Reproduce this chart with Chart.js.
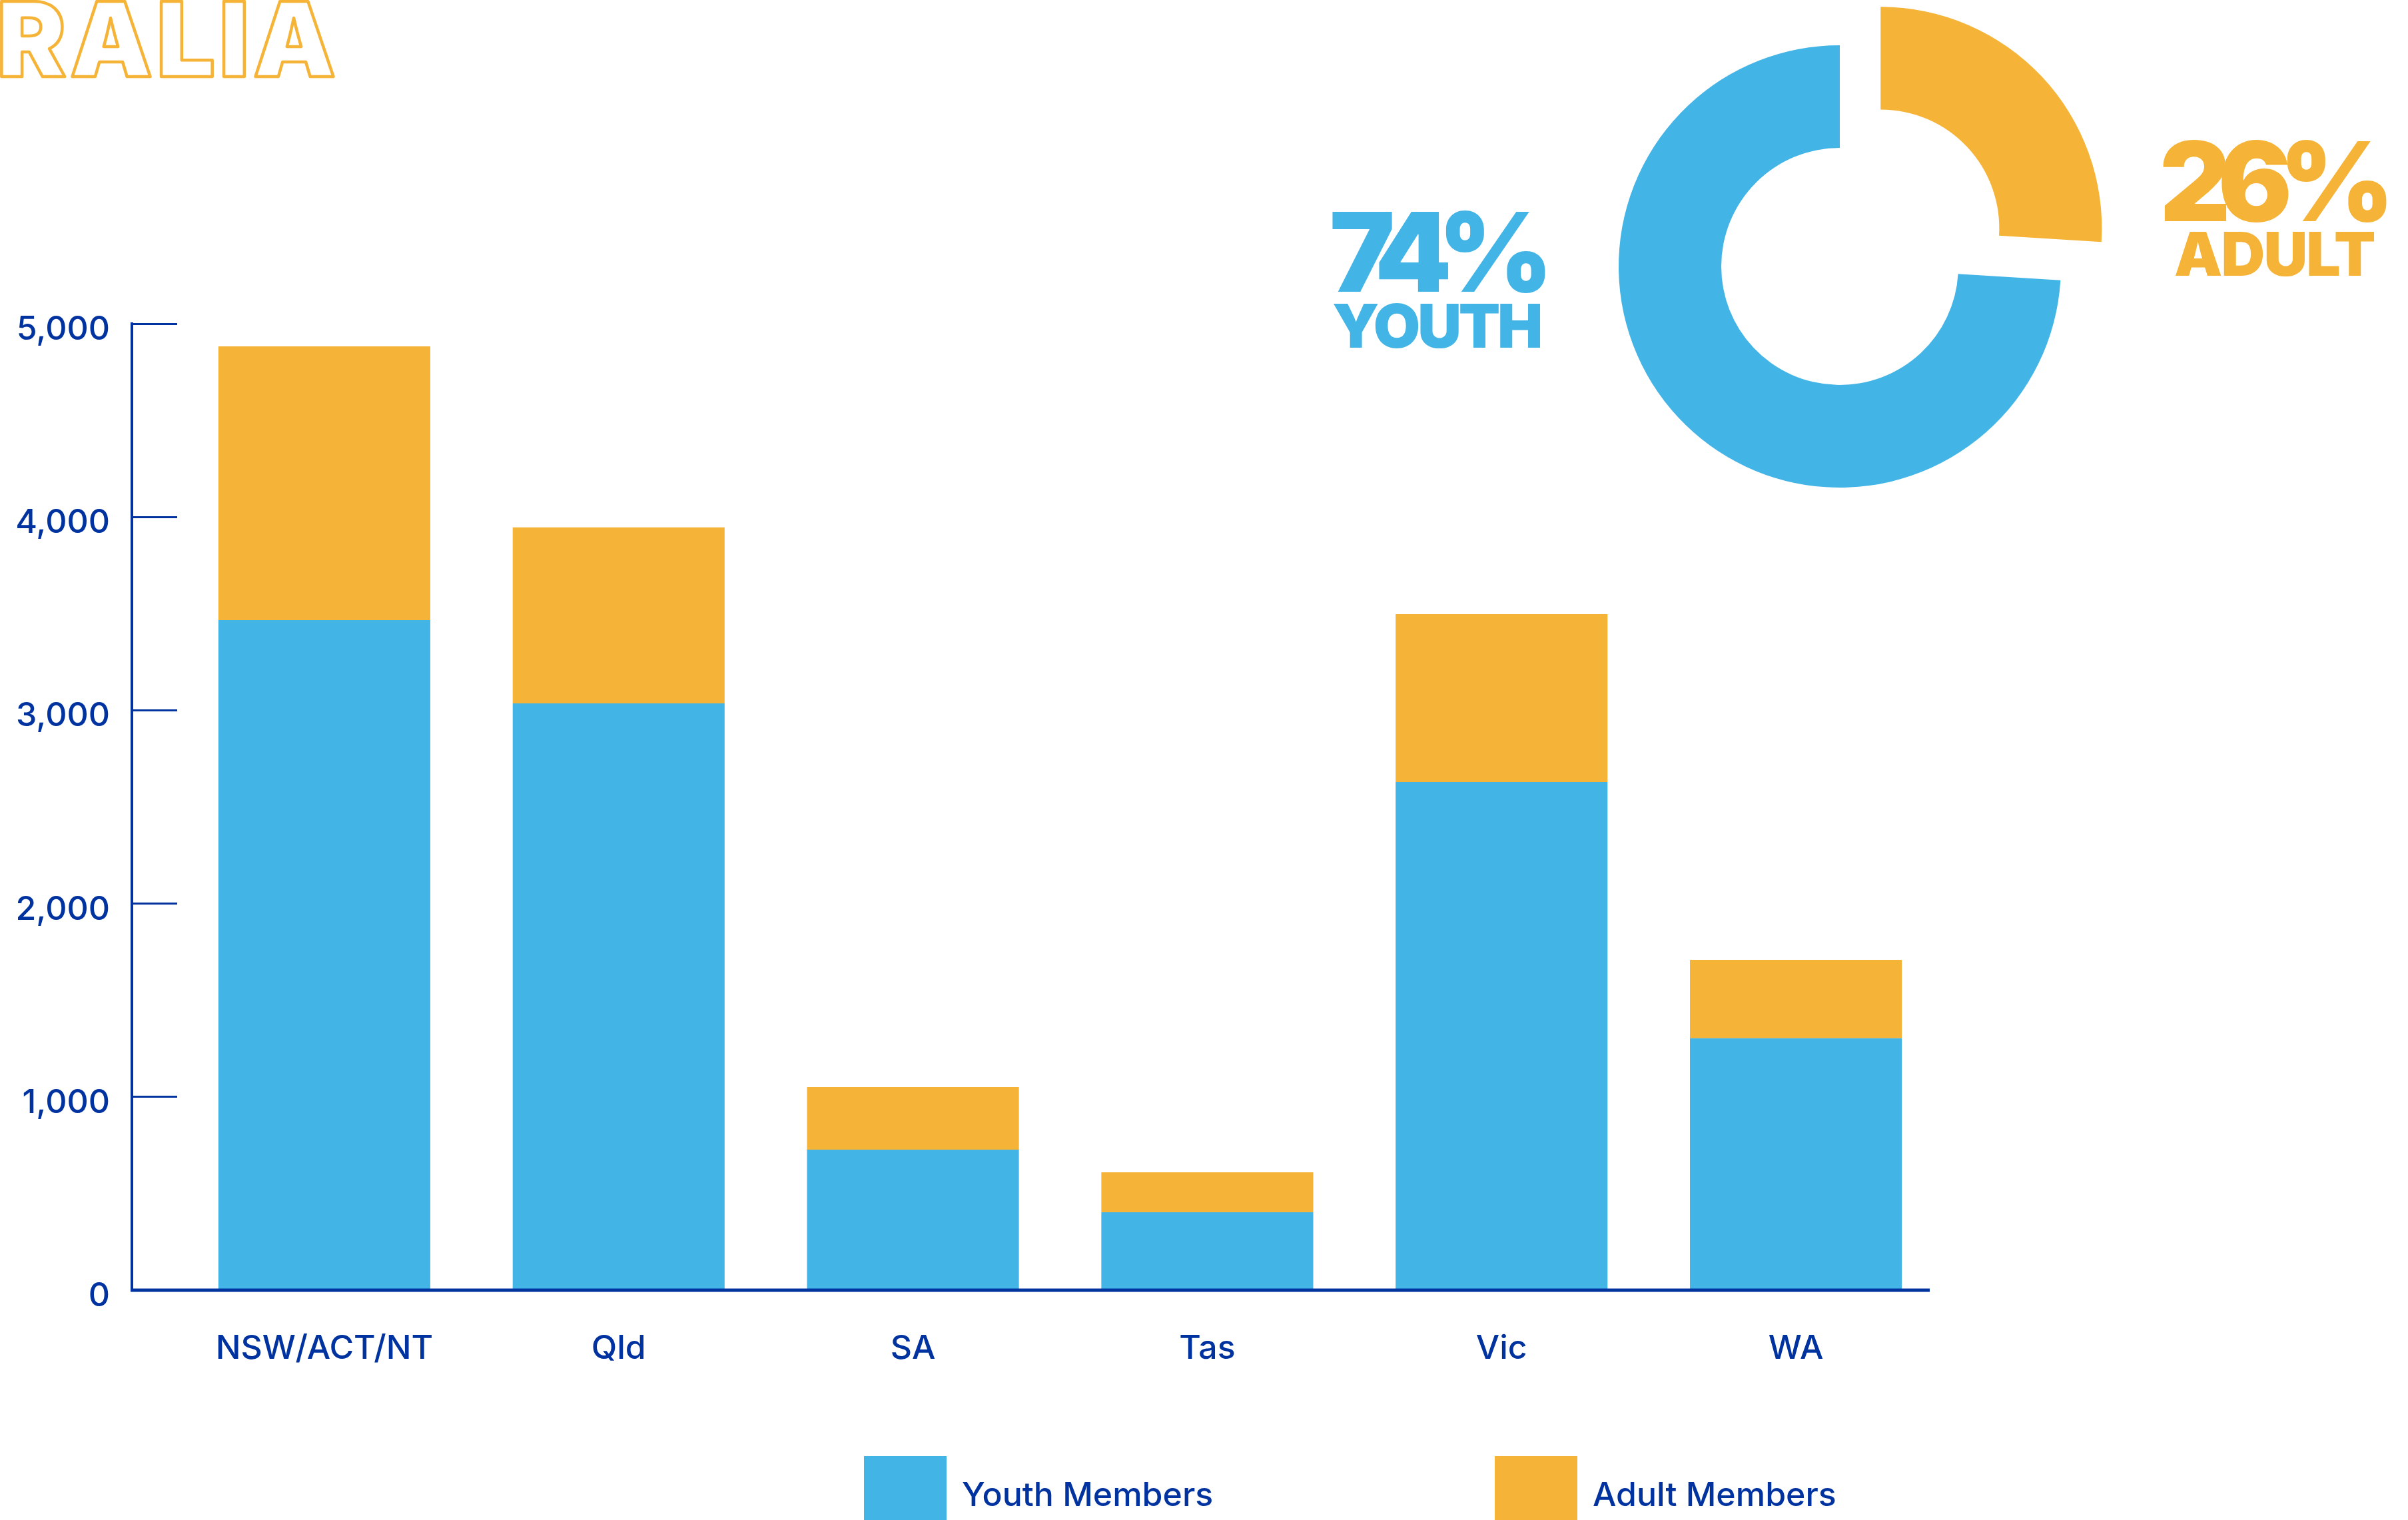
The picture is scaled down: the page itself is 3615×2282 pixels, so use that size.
<!DOCTYPE html>
<html>
<head>
<meta charset="utf-8">
<script src="https://cdn.jsdelivr.net/npm/chart.js@4.4.0/dist/chart.umd.min.js"></script>
<style>
  html, body { margin: 0; padding: 0; background: #fff; overflow: hidden; }
  #wrap { position: relative; width: 3615px; height: 2282px; }
  canvas { position: absolute; left: 0; top: 0; }
</style>
</head>
<body>
<div id="wrap">
  <canvas id="barChart" width="3615" height="2282"></canvas>
  <canvas id="donutChart" width="3615" height="2282"></canvas>
</div>
<script>
var regions = ["NSW/ACT/NT", "Qld", "SA", "Tas", "Vic", "WA"];
var youthMembers = [3467, 3036, 727, 403, 2629, 1303];
var adultMembers = [1416, 910, 324, 207, 869, 406];
var yTicks = [0, 1000, 2000, 3000, 4000, 5000];
var shareLabels = ["ADULT", "YOUTH"];
var shareValues = [26, 74];

var BLUE = "#42B5E6";
var ORANGE = "#F5B437";
var NAVY = "#0033A0";
var FONT = "Inter";

// stretch or squeeze a word to a given ink width
function drawFitted(ctx, text, x, baseline, width, font, align) {
  ctx.font = font;
  ctx.letterSpacing = "0px";
  var m = ctx.measureText(text);
  var ink = m.actualBoundingBoxLeft + m.actualBoundingBoxRight;
  var ls = (width - ink) / (text.length - 1);
  ctx.letterSpacing = ls + "px";
  m = ctx.measureText(text);
  var px;
  if (align === "left") {
    px = x + m.actualBoundingBoxLeft;
  } else {
    px = x - (m.actualBoundingBoxRight - m.actualBoundingBoxLeft) / 2;
  }
  return px;
}

var axisLines = {
  id: "axisLines",
  afterDatasetsDraw: function (chart) {
    var ctx = chart.ctx;
    var a = chart.chartArea;
    var y = chart.scales.y;
    var x0 = a.left - 68;
    ctx.save();
    ctx.strokeStyle = NAVY;
    ctx.lineWidth = 4;
    ctx.beginPath();
    ctx.moveTo(x0, y.getPixelForValue(5000) - 2);
    ctx.lineTo(x0, a.bottom + 2);
    ctx.stroke();
    ctx.lineWidth = 5;
    ctx.beginPath();
    ctx.moveTo(x0 - 2, a.bottom);
    ctx.lineTo(a.right - 20, a.bottom);
    ctx.stroke();
    ctx.restore();
  }
};

var legendAndTitle = {
  id: "legendAndTitle",
  afterDraw: function (chart) {
    var ctx = chart.ctx;
    ctx.save();
    // legend
    var boxX = [1297, 2244];
    chart.data.datasets.forEach(function (ds, i) {
      ctx.fillStyle = ds.backgroundColor;
      ctx.fillRect(boxX[i], 2186, 124, 120);
      ctx.fillStyle = NAVY;
      ctx.font = "500 50px " + FONT;
      ctx.textBaseline = "alphabetic";
      ctx.textAlign = "left";
      ctx.fillText(ds.label, boxX[i] + 147, 2261);
    });
    // cropped outlined heading
    var px = drawFitted(ctx, "RALIA", 2, 115, 499, "900 156px " + FONT, "left");
    ctx.textAlign = "left";
    ctx.textBaseline = "alphabetic";
    ctx.strokeStyle = ORANGE;
    ctx.lineWidth = 4.5;
    ctx.lineJoin = "round";
    ctx.strokeText("RALIA", px, 115);
    ctx.restore();
  }
};

var shareText = {
  id: "shareText",
  afterDraw: function (chart) {
    var ctx = chart.ctx;
    var vals = chart.data.datasets[0].data;
    var items = [
      { t: vals[1] + "%", x: 2160, b: 438, w: 320, f: "900 165px " + FONT, c: BLUE },
      { t: chart.data.labels[1], x: 2157, b: 522, w: 310, f: "900 91px " + FONT, c: BLUE },
      { t: vals[0] + "%", x: 3415, b: 332, w: 336, f: "900 165px " + FONT, c: ORANGE },
      { t: chart.data.labels[0], x: 3415, b: 414, w: 298, f: "900 91px " + FONT, c: ORANGE }
    ];
    ctx.save();
    items.forEach(function (it) {
      var px = drawFitted(ctx, it.t, it.x, it.b, it.w, it.f, "center");
      ctx.textAlign = "left";
      ctx.textBaseline = "alphabetic";
      ctx.fillStyle = it.c;
      ctx.fillText(it.t, px, it.b);
    });
    ctx.restore();
  }
};

function draw() {
  new Chart(document.getElementById("barChart"), {
    type: "bar",
    data: {
      labels: regions,
      datasets: [
        {
          label: "Youth Members",
          data: youthMembers,
          backgroundColor: BLUE,
          borderWidth: 0,
        },
        {
          label: "Adult Members",
          data: adultMembers,
          backgroundColor: ORANGE,
          borderWidth: 0,
        },
      ],
    },
    options: {
      responsive: false,
      animation: false,
      devicePixelRatio: 1,
      events: [],
      layout: {
        padding: { left: 0, right: 698, top: 486, bottom: 195 },
      },
      datasets: {
        bar: { barPercentage: 0.72, categoryPercentage: 1 },
      },
      scales: {
        x: {
          stacked: true,
          grid: { display: false, drawTicks: false },
          border: { display: false },
          ticks: {
            color: NAVY,
            font: { family: FONT, size: 50, weight: 500 },
            padding: 58,
            maxRotation: 0,
            autoSkip: false,
          },
          afterFit: function (s) {
            s.height = 150;
          },
        },
        y: {
          stacked: true,
          min: 0,
          max: 5000,
          afterBuildTicks: function (s) {
            s.ticks = yTicks.map(function (v) {
              return { value: v };
            });
          },
          grid: {
            drawOnChartArea: false,
            tickLength: 68,
            tickWidth: 3,
            tickColor: NAVY,
            color: NAVY,
          },
          border: { display: false },
          ticks: {
            color: NAVY,
            font: { family: FONT, size: 50, weight: 500 },
            padding: 33,
            labelOffset: 9,
          },
          afterFit: function (s) {
            s.width = 266;
          },
        },
      },
      plugins: {
        legend: { display: false },
        tooltip: { enabled: false },
      },
    },
    plugins: [axisLines, legendAndTitle],
  });

  new Chart(document.getElementById("donutChart"), {
    type: "doughnut",
    data: {
      labels: shareLabels,
      datasets: [
        {
          data: shareValues,
          backgroundColor: [ORANGE, BLUE],
          borderWidth: 0,
          offset: [336, 0],
        },
      ],
    },
    options: {
      responsive: false,
      animation: false,
      devicePixelRatio: 1,
      events: [],
      radius: 332,
      cutout: "53.6%",
      layout: {
        padding: { left: 2362, right: 453, top: 0, bottom: 1482 },
      },
      plugins: {
        legend: { display: false },
        tooltip: { enabled: false },
      },
    },
    plugins: [shareText],
  });
}

Promise.all([
  document.fonts.load("500 50px Inter"),
  document.fonts.load("900 100px Inter"),
]).then(draw, draw);
</script>
</body>
</html>
